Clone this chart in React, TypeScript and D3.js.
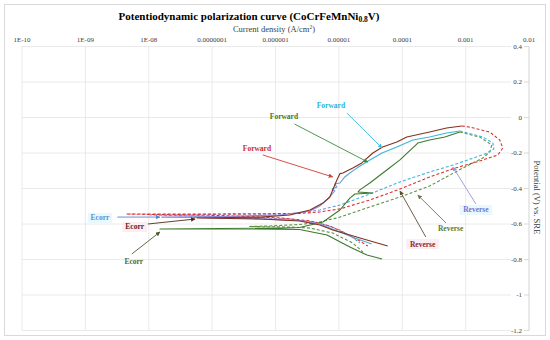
import * as d3 from "d3";

// axis ticks
const xTickValues = [1e-10, 1e-9, 1e-8, 1e-7, 1e-6, 1e-5, 1e-4, 1e-3, 1e-2];
const xTickLabels = ["1E-10", "1E-09", "1E-08", "0.0000001", "0.000001", "0.00001", "0.0001", "0.001", "0.01"];
const yTickValues = [0.4, 0.2, 0, -0.2, -0.4, -0.6, -0.8, -1, -1.2];
const yTickLabels = ["0.4", "0.2", "0", "-0.2", "-0.4", "-0.6", "-0.8", "-1", "-1.2"];

// red sample, forward scan (current A/cm2, potential V)
const redFwdI = [5.9e-5, 2.77e-5, 1.49e-5, 8.0e-6, 5.0e-6, 2.4e-6, 5.7e-7, 1.9e-7, 5.8e-8, 1.9e-7, 5.7e-7, 1.69e-6, 3.5e-6, 5.6e-6, 7.2e-6, 8.0e-6, 9.3e-6, 1.04e-5, 1.16e-5, 1.24e-5, 1.66e-5, 2.3e-5, 3.44e-5, 4.9e-5, 8.2e-5, 1.18e-4, 2.7e-4, 5.0e-4, 8.7e-4];
const redFwdE = [-0.724, -0.69, -0.662, -0.634, -0.606, -0.583, -0.572, -0.569, -0.566, -0.563, -0.561, -0.549, -0.521, -0.482, -0.448, -0.408, -0.352, -0.316, -0.313, -0.307, -0.285, -0.256, -0.2, -0.166, -0.138, -0.11, -0.082, -0.059, -0.048];
// red sample, reverse scan
const redRevI = [8.7e-4, 1.16e-3, 2.4e-3, 3.46e-3, 3.86e-3, 3.22e-3, 1.67e-3, 6.8e-4, 2.7e-4, 9.2e-5, 3.08e-5, 1.04e-5, 5.0e-6, 2.4e-6, 6.4e-8, 4.4e-9, 1.33e-7, 1.2e-6, 3.5e-6, 7.2e-6, 1.24e-5, 2.14e-5, 2.86e-5];
const redRevE = [-0.048, -0.054, -0.082, -0.127, -0.172, -0.211, -0.245, -0.285, -0.335, -0.403, -0.465, -0.515, -0.532, -0.541, -0.544, -0.544, -0.552, -0.566, -0.583, -0.611, -0.651, -0.696, -0.724];

// blue sample
const blueFwdI = [3.3e-5, 1.79e-5, 8.6e-6, 5.0e-6, 2.4e-6, 3.9e-7, 6.4e-8, 1.6e-8, 1.33e-7, 1.2e-6, 3.5e-6, 5.0e-6, 7.2e-6, 8.6e-6, 7.8e-6, 9.3e-6, 8.6e-6, 1.04e-5, 1.24e-5, 1.49e-5, 1.92e-5, 3.08e-5, 4.8e-5, 8.2e-5, 1.47e-4, 2.7e-4, 5.0e-4, 8.1e-4];
const blueFwdE = [-0.713, -0.679, -0.634, -0.6, -0.58, -0.569, -0.563, -0.561, -0.558, -0.549, -0.527, -0.499, -0.448, -0.414, -0.403, -0.392, -0.375, -0.369, -0.335, -0.313, -0.285, -0.239, -0.2, -0.166, -0.127, -0.11, -0.087, -0.076];
const blueRevI = [8.1e-4, 1.87e-3, 2.69e-3, 2.79e-3, 2.01e-3, 6.3e-4, 2.7e-4, 9.2e-5, 3.08e-5, 1.04e-5, 5.0e-6, 2.4e-6, 1.2e-6, 6.4e-8, 1.05e-8, 1.33e-7, 1.69e-6, 5.0e-6, 1.04e-5, 1.6e-5, 2.14e-5];
const blueRevE = [-0.076, -0.11, -0.144, -0.177, -0.206, -0.268, -0.307, -0.363, -0.431, -0.493, -0.521, -0.538, -0.544, -0.546, -0.549, -0.558, -0.572, -0.594, -0.634, -0.673, -0.707];

// green sample
const greenFwdI = [4.8e-5, 2.77e-5, 1.49e-5, 6.5e-6, 2.4e-6, 3.9e-7, 6.4e-8, 1.5e-8, 1.33e-7, 1.2e-6, 2.4e-6, 5.6e-6, 1.04e-5, 1.49e-5, 1.79e-5, 3.44e-5, 2.0e-5, 2.14e-5, 3.08e-5, 5.7e-5, 9.2e-5, 1.76e-4, 2.7e-4, 4.7e-4, 8.1e-4];
const greenFwdE = [-0.797, -0.775, -0.73, -0.662, -0.631, -0.628, -0.628, -0.628, -0.625, -0.623, -0.62, -0.589, -0.521, -0.454, -0.431, -0.425, -0.42, -0.408, -0.369, -0.296, -0.239, -0.144, -0.127, -0.11, -0.082];
const greenRevI = [8.1e-4, 1.67e-3, 2.59e-3, 2.4e-3, 1.87e-3, 9.0e-4, 2.7e-4, 9.2e-5, 3.08e-5, 1.04e-5, 5.0e-6, 2.4e-6, 8.2e-7, 3.9e-7, 1.69e-6, 3.5e-6, 8.0e-6, 1.66e-5, 2.4e-5];
const greenRevE = [-0.082, -0.11, -0.155, -0.194, -0.228, -0.285, -0.386, -0.448, -0.504, -0.561, -0.589, -0.603, -0.611, -0.614, -0.617, -0.623, -0.651, -0.707, -0.758];

const series = [
  { id: "greenRev", I: greenRevI, E: greenRevE, color: "#5f9142", dash: "3,2" },
  { id: "blueRev", I: blueRevI, E: blueRevE, color: "url(#blueGrad)", dash: "3,2" },
  { id: "redRev", I: redRevI, E: redRevE, color: "#e0302c", dash: "3,2" },
  { id: "greenFwd", I: greenFwdI, E: greenFwdE, color: "#3b7a2c", dash: null },
  { id: "blueFwd", I: blueFwdI, E: blueFwdE, color: "url(#blueGrad)", dash: null },
  { id: "redFwd", I: redFwdI, E: redFwdE, color: "#83301f", dash: null },
];

// annotations: text position and arrow from/to, in data units
const notes = [
  { text: "Forward", t: [5.1e-7, -0.177], a: [6.3e-7, -0.211], b: [8.0e-6, -0.335], color: "#c8302a", arrow: "#d43a34", bg: null },
  { text: "Forward", t: [1.36e-6, 0.003], a: [2.0e-6, -0.037], b: [2.86e-5, -0.251], color: "#3d7a2c", arrow: "#3d8a3d", bg: null },
  { text: "Forward", t: [7.5e-6, 0.065], a: [1.34e-5, 0.025], b: [4.8e-5, -0.172], color: "#2eb3d8", arrow: "#35bbdc", bg: null },
  { text: "Reverse", t: [1.45e-3, -0.521], a: [1.45e-3, -0.487], b: [6.3e-4, -0.279], color: "#6a78d4", arrow: "#8e9ad8", bg: "#e9f8fc" },
  { text: "Reverse", t: [5.8e-4, -0.628], a: [4.9e-4, -0.594], b: [1.76e-4, -0.437], color: "#5b7d32", arrow: "#6d7a48", bg: null },
  { text: "Reverse", t: [2.1e-4, -0.713], a: [2.35e-4, -0.673], b: [9.2e-5, -0.414], color: "#8a2a2a", arrow: "#5e4e34", bg: "#fcecf3" },
  { text: "Ecorr", t: [1.7e-9, -0.566], a: [3.2e-9, -0.561], b: [1.5e-8, -0.561], color: "#5b8fd8", arrow: "#4f86d8", bg: "#e9f8fc" },
  { text: "Ecorr", t: [6.0e-9, -0.617], a: [9.7e-9, -0.6], b: [5.4e-8, -0.572], color: "#5e1c1c", arrow: "#4e2a1a", bg: "#fcecf3" },
  { text: "Ecorr", t: [5.8e-9, -0.814], a: [5.4e-9, -0.769], b: [1.5e-8, -0.645], color: "#4a6b2a", arrow: "#4a5e2a", bg: null },
];

export default function App() {
  const W = 550;
  const H = 340;
  const left = 22;
  const right = 529;
  const top = 46.5;
  const bottom = 330.5;
  const font = "'Liberation Serif', 'Times New Roman', serif";

  const x = d3.scaleLog().domain([1e-10, 1e-2]).range([left, right]);
  const y = d3.scaleLinear().domain([-1.2, 0.4]).range([bottom, top]);

  const line = d3
    .line<[number, number]>()
    .x((d) => x(d[0]))
    .y((d) => y(d[1]));

  const arrowColors = Array.from(new Set(notes.map((n) => n.arrow)));

  return (
    <svg
      width={W}
      height={H}
      style={{ position: "absolute", left: 0, top: 0, background: "#fff" }}
      fontFamily={font}
    >
      <defs>
        <linearGradient id="blueGrad" gradientUnits="userSpaceOnUse" x1={x(4e-6)} x2={x(3e-5)} y1={0} y2={0}>
          <stop offset="0" stopColor="#8a86e0" />
          <stop offset="1" stopColor="#3db4dc" />
        </linearGradient>
        {arrowColors.map((c, i) => (
          <marker
            key={c}
            id={"ah" + i}
            viewBox="0 0 6 6"
            refX={5.5}
            refY={3}
            markerWidth={4.5}
            markerHeight={4.5}
            markerUnits="userSpaceOnUse"
            orient="auto"
          >
            <path d="M0,0 L6,3 L0,6 z" fill={c} />
          </marker>
        ))}
      </defs>

      <rect x={4.5} y={4.5} width={541} height={331} fill="#fff" stroke="#d9d9d9" />

      {/* grid */}
      {xTickValues.map((v) => (
        <line key={"gx" + v} x1={x(v)} x2={x(v)} y1={top} y2={bottom} stroke="#e4e4e4" strokeWidth={0.8} />
      ))}
      {yTickValues.map((v) => (
        <line key={"gy" + v} x1={left} x2={511} y1={y(v)} y2={y(v)} stroke="#e4e4e4" strokeWidth={0.8} />
      ))}

      {/* right axis */}
      <line x1={right} x2={right} y1={top} y2={bottom} stroke="#d9d9d9" strokeWidth={0.8} />
      {yTickValues.map((v, i) => (
        <g key={"ty" + v}>
          <line x1={524} x2={right} y1={y(v)} y2={y(v)} stroke="#d0d0d0" strokeWidth={0.8} />
          <text x={522} y={y(v)} dy="0.33em" fontSize={7} textAnchor="end" fill="#404040">
            {yTickLabels[i]}
          </text>
        </g>
      ))}
      <text
        transform={`translate(537,${y(-0.45)}) rotate(90)`}
        fontSize={8.5}
        textAnchor="middle"
        dy="0.33em"
        fill="#404040"
      >
        Potential (V) vs. SRE
      </text>

      {/* top axis */}
      {xTickValues.map((v, i) => (
        <text key={"tx" + v} x={x(v)} y={40} dy="0.33em" fontSize={7} textAnchor="middle" fill="#404040">
          {xTickLabels[i]}
        </text>
      ))}
      <text x={274} y={29} dy="0.33em" fontSize={8.5} textAnchor="middle" fill="#404040">
        Current density (A/cm<tspan dy="-3" fontSize={5.5}>2</tspan>
        <tspan dy="3">)</tspan>
      </text>
      <text x={249} y={16} dy="0.33em" fontSize={11} fontWeight="bold" textAnchor="middle" fill="#000">
        Potentiodynamic polarization curve (CoCrFeMnNi
        <tspan dy="2.5" fontSize={7.5}>0.8</tspan>
        <tspan dy="-2.5">V)</tspan>
      </text>

      {/* curves */}
      {series.map((s) => (
        <path
          key={s.id}
          d={line(s.I.map((v, i) => [v, s.E[i]] as [number, number])) || ""}
          fill="none"
          stroke={s.color}
          strokeWidth={1.1}
          strokeDasharray={s.dash || undefined}
          strokeLinejoin="round"
        />
      ))}

      {/* annotations */}
      {notes.map((n, i) => {
        const tx = x(n.t[0]);
        const ty = y(n.t[1]);
        const w = n.text.length * 4.1;
        return (
          <g key={"n" + i}>
            {n.bg && <rect x={tx - w / 2 - 2} y={ty - 5} width={w + 4} height={10} fill={n.bg} />}
            <line
              x1={x(n.a[0])}
              y1={y(n.a[1])}
              x2={x(n.b[0])}
              y2={y(n.b[1])}
              stroke={n.arrow}
              strokeWidth={0.9}
              markerEnd={`url(#ah${arrowColors.indexOf(n.arrow)})`}
            />
            <text x={tx} y={ty} dy="0.33em" fontSize={7.5} fontWeight="bold" textAnchor="middle" fill={n.color}>
              {n.text}
            </text>
          </g>
        );
      })}
    </svg>
  );
}
